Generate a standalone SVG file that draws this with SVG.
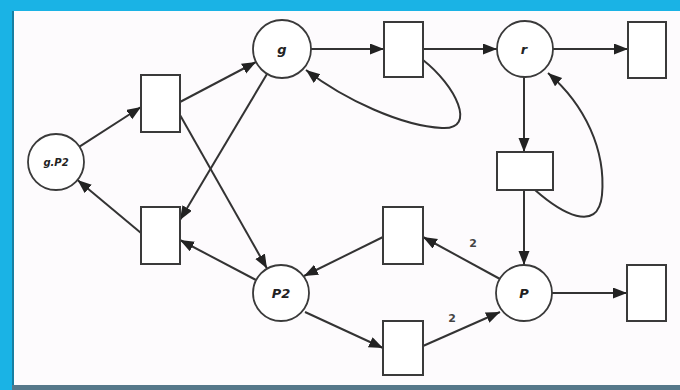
<svg xmlns="http://www.w3.org/2000/svg" width="680" height="390" viewBox="0 0 680 390">
<style>
.place{fill:#ffffff;stroke:#3a3a3a;stroke-width:1.8}
.trans{fill:#ffffff;stroke:#3a3a3a;stroke-width:2}
.arc{fill:none;stroke:#333333;stroke-width:2;marker-end:url(#ah)}
.lbl{font-family:"DejaVu Sans","Liberation Sans",sans-serif;font-style:italic;font-weight:bold;fill:#222222;text-anchor:middle}
.w{font-family:"DejaVu Sans","Liberation Sans",sans-serif;font-size:11px;font-weight:bold;fill:#444444;text-anchor:middle}
</style>
<defs>
<marker id="ah" markerUnits="userSpaceOnUse" markerWidth="15" markerHeight="12" refX="14" refY="5.5" orient="auto">
<path d="M0,0 L14,5.5 L0,11 Z" fill="#222222"/>
</marker>
</defs>
<g id="frame">
<rect x="0" y="0" width="680" height="390" fill="#1ab3e5"/>
<rect x="13" y="11" width="667" height="374" fill="#fdfbfd"/>
<rect x="12" y="11" width="2" height="376" fill="#177fa2"/>
<rect x="12" y="385" width="668" height="5" fill="#56788a"/>
</g>
<g id="connectors">
<line class="arc" x1="79.5" y1="146.7" x2="141" y2="107"/>
<line class="arc" x1="180" y1="102" x2="256" y2="62"/>
<line class="arc" x1="180" y1="115" x2="267" y2="268.5"/>
<line class="arc" x1="267" y1="74" x2="180" y2="220"/>
<line class="arc" x1="256" y1="280" x2="180" y2="240"/>
<line class="arc" x1="141" y1="233" x2="77.5" y2="180"/>
<line class="arc" x1="311" y1="49" x2="384" y2="49"/>
<path class="arc" d="M423,60 C455,85 478,130 442,128 C402,126 345,100 306,70"/>
<line class="arc" x1="423" y1="49" x2="497" y2="49"/>
<line class="arc" x1="553" y1="49" x2="628" y2="49"/>
<line class="arc" x1="524" y1="77" x2="524" y2="152"/>
<path class="arc" d="M535,190 C560,212 598,235 602,195 C606,150 585,105 548,73"/>
<line class="arc" x1="524" y1="190" x2="524" y2="265"/>
<line class="arc" x1="500" y1="279" x2="423" y2="237"/>
<line class="arc" x1="383" y1="237" x2="304" y2="276"/>
<line class="arc" x1="305" y1="312" x2="383" y2="348"/>
<line class="arc" x1="423" y1="346" x2="500" y2="312"/>
<line class="arc" x1="552" y1="293" x2="627" y2="293"/>
<text class="w" x="473" y="247">2</text>
<text class="w" x="452" y="322">2</text>
</g>
<g id="p_gP2"><circle class="place" cx="56" cy="162" r="28"/><text class="lbl" x="56" y="166" font-size="10">g.P2</text></g>
<g id="p_g"><circle class="place" cx="282" cy="49" r="29"/><text class="lbl" x="282" y="54" font-size="13">g</text></g>
<g id="p_r"><circle class="place" cx="525" cy="49" r="28"/><text class="lbl" x="524" y="54" font-size="13">r</text></g>
<g id="p_P2"><circle class="place" cx="281" cy="293" r="28"/><text class="lbl" x="281" y="298" font-size="13">P2</text></g>
<g id="p_P"><circle class="place" cx="524" cy="293" r="28"/><text class="lbl" x="524" y="298" font-size="13">P</text></g>
<g id="t1"><rect class="trans" x="141" y="75" width="39" height="57"/></g>
<g id="t2"><rect class="trans" x="141" y="207" width="39" height="57"/></g>
<g id="t3"><rect class="trans" x="384" y="22" width="39" height="55"/></g>
<g id="t4"><rect class="trans" x="628" y="22" width="38" height="56"/></g>
<g id="t5"><rect class="trans" x="497" y="152" width="56" height="38"/></g>
<g id="t6"><rect class="trans" x="383" y="207" width="40" height="57"/></g>
<g id="t7"><rect class="trans" x="383" y="321" width="40" height="54"/></g>
<g id="t8"><rect class="trans" x="627" y="265" width="39" height="56"/></g>
</svg>
